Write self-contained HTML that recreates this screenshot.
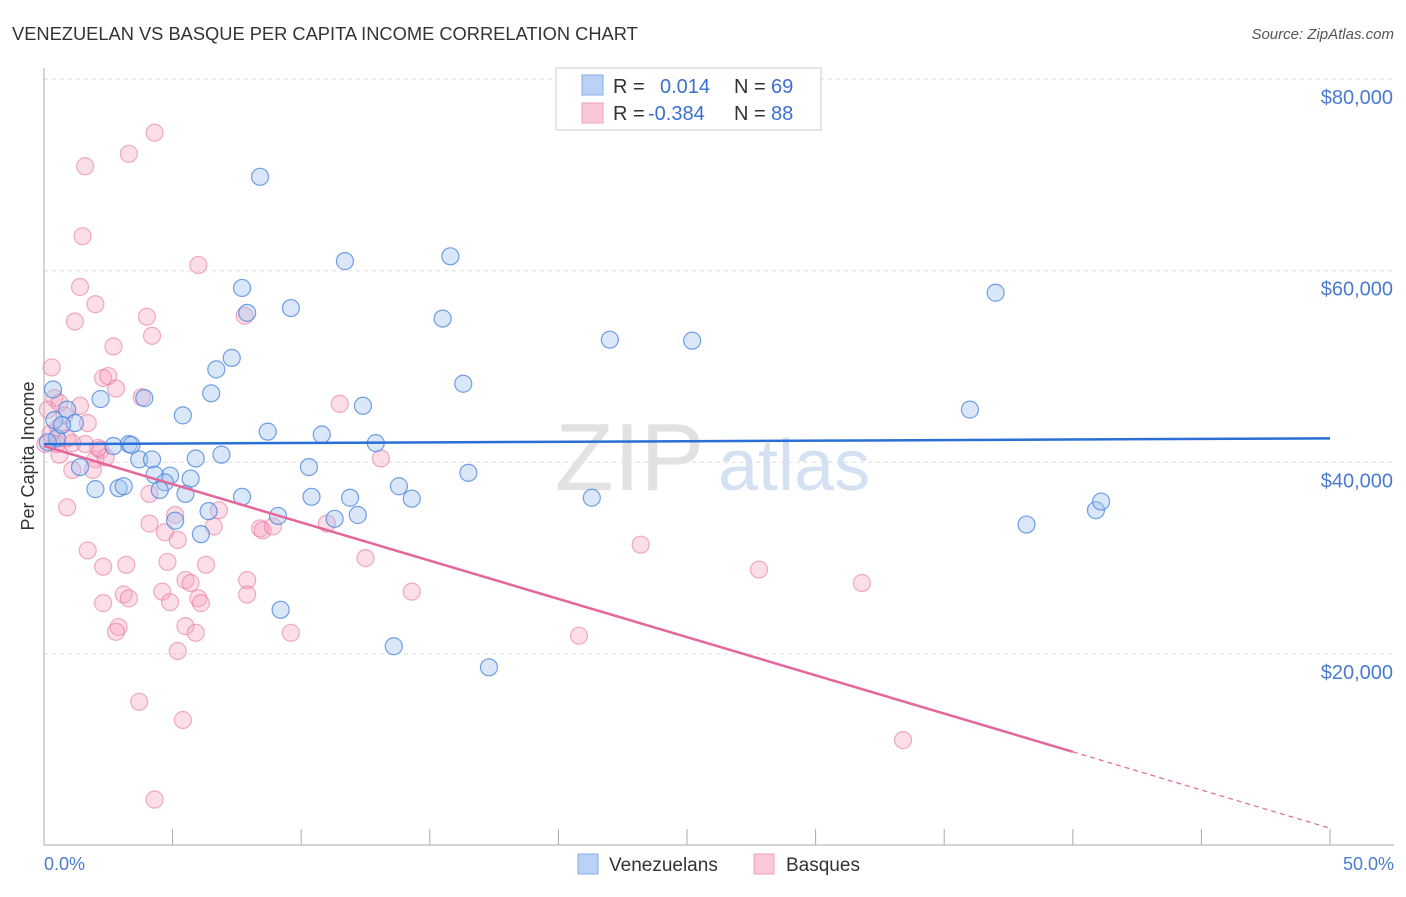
<!DOCTYPE html>
<html><head><meta charset="utf-8"><style>
body{margin:0;background:#fff;font-family:"Liberation Sans",sans-serif}
svg text{font-family:"Liberation Sans",sans-serif}
</style></head><body>
<svg id="c" width="1406" height="892">
<text x="12" y="40" font-size="18.3" fill="#333">VENEZUELAN VS BASQUE PER CAPITA INCOME CORRELATION CHART</text>
<text x="1394" y="39" font-size="15" fill="#555" font-style="italic" text-anchor="end">Source: ZipAtlas.com</text>
<text x="34" y="456" font-size="18" fill="#333" text-anchor="middle" transform="rotate(-90 34 456)">Per Capita Income</text>
<g id="grid"></g>
<text x="555" y="490" font-size="96" fill="#e2e2e2" font-family="Liberation Serif">ZIP</text>
<text x="718" y="490" font-size="72" fill="#d3e1f3">atlas</text>
<g id="marks"></g>
<text x="44" y="870" font-size="18" fill="#4a7bd0">0.0%</text>
<text x="1394" y="870" font-size="18" fill="#4a7bd0" text-anchor="end">50.0%</text>
<g>
<rect x="556" y="68" width="265" height="62" fill="#fff" stroke="#ccc"/>
<rect x="582" y="75" width="21" height="20" fill="#b9d2f5" stroke="#86aee6"/>
<rect x="582" y="103" width="21" height="20" fill="#fac8d8" stroke="#eea0ba"/>
<text x="613" y="93" font-size="20" fill="#333">R =</text>
<text x="660" y="93" font-size="20" fill="#3b70d0">0.014</text>
<text x="734" y="93" font-size="20" fill="#333">N =</text>
<text x="771" y="93" font-size="20" fill="#3b70d0">69</text>
<text x="613" y="120" font-size="20" fill="#333">R =</text>
<text x="648" y="120" font-size="20" fill="#3b70d0">-0.384</text>
<text x="734" y="120" font-size="20" fill="#333">N =</text>
<text x="771" y="120" font-size="20" fill="#3b70d0">88</text>
</g>
<g>
<rect x="578" y="854" width="20" height="20" fill="#b9d2f5" stroke="#86aee6"/>
<text x="609" y="871" font-size="19" fill="#333">Venezuelans</text>
<rect x="754" y="854" width="20" height="20" fill="#fac8d8" stroke="#eea0ba"/>
<text x="786" y="871" font-size="19" fill="#333">Basques</text>
</g>
</svg>
<script>
const yTicks=[20000,40000,60000,80000];
const yTickLabels=["$20,000","$40,000","$60,000","$80,000"];
const xTicks=[0,5,10,15,20,25,30,35,40,45,50];
const blueX=[8.4,15.8,11.7,7.7,9.6,7.9,15.5,22.0,25.2,7.3,6.7,6.5,16.3,2.2,3.9,5.4,12.4,0.35,0.9,1.2,0.5,8.7,10.8,12.9,3.3,3.4,2.7,3.7,4.2,5.9,6.9,1.4,10.3,16.5,2.0,2.9,3.1,4.9,5.7,4.3,4.7,5.5,7.7,4.5,10.4,11.9,13.8,14.3,21.3,5.1,6.4,9.1,11.3,12.2,6.1,38.2,40.9,41.1,36.0,37.0,9.2,13.6,17.3,0.15,0.4,0.7];
const blueY=[69.8,61.5,61.0,58.2,56.1,55.6,55.0,52.8,52.7,50.9,49.7,47.2,48.2,46.6,46.7,44.9,45.9,47.6,45.5,44.1,42.5,43.2,42.9,42.0,41.9,41.8,41.7,40.3,40.3,40.4,40.8,39.5,39.5,38.9,37.2,37.3,37.5,38.6,38.3,38.7,37.9,36.7,36.4,37.1,36.4,36.3,37.5,36.2,36.3,33.9,34.9,34.4,34.1,34.5,32.5,33.5,35.0,35.9,45.5,57.7,24.6,20.8,18.6,42.1,44.4,43.9];
const pinkX=[4.3,3.3,1.6,1.5,6.0,1.4,2.0,1.2,4.0,4.2,2.7,0.3,2.3,2.5,2.8,3.8,0.4,0.15,0.6,0.8,1.4,1.7,1.1,0.6,1.1,2.0,2.2,2.4,2.1,0.5,11.5,13.1,7.8,0.9,4.1,4.7,5.1,5.2,6.6,6.8,8.4,8.5,8.9,11.0,12.5,1.7,2.3,3.2,4.8,6.3,5.5,5.7,7.9,2.3,3.1,3.3,4.6,4.9,6.0,6.1,7.9,14.3,2.9,2.8,5.5,5.9,9.6,20.8,23.2,27.8,31.8,5.2,3.7,5.4,33.4,4.3,0.05,0.25,0.55,0.9,1.6,1.9,4.1];
const pinkY=[74.4,72.2,70.9,63.6,60.6,58.3,56.5,54.7,55.2,53.2,52.1,49.9,48.8,49.0,47.7,46.8,46.7,45.5,46.2,44.9,45.9,44.1,42.0,40.8,39.2,40.3,41.3,40.5,41.5,41.9,46.1,40.4,55.3,35.3,36.7,32.7,34.5,31.9,33.3,35.0,33.1,32.9,33.3,33.6,30.0,30.8,29.1,29.3,29.6,29.3,27.7,27.4,27.7,25.3,26.2,25.8,26.5,25.4,25.8,25.3,26.2,26.5,22.8,22.3,22.9,22.2,22.2,21.9,31.4,28.8,27.4,20.3,15.0,13.1,11.0,4.8,41.9,43.0,43.6,42.5,41.9,39.2,33.6];
const blueTrend=[41.9,42.5];
const pinkTrend=[41.7,1.8];
const pinkSolidEnd=40;
const X=v=>44+v/50*1286;
const Y=v=>845.5-v/20000*191.6;
const Yk=v=>Y(v*1000);
const NS="http://www.w3.org/2000/svg";
function mk(t,a,p){const e=document.createElementNS(NS,t);for(const k in a)e.setAttribute(k,a[k]);p.appendChild(e);return e;}
const grid=document.getElementById('grid'),marks=document.getElementById('marks');
yTicks.forEach((v,i)=>{
 const l=mk('line',{x1:44,x2:1394,y1:Y(v),y2:Y(v),stroke:'#ddd','stroke-dasharray':'4 4'},grid);
 
 
 const t=mk('text',{x:1393,y:Y(v)+25,'font-size':20,fill:'#4a7bd0','text-anchor':'end'},grid);
 t.textContent=yTickLabels[i];
 
 
});
const ax=mk('line',{x1:44,x2:44,y1:68,y2:845,stroke:'#aaa'},grid);


const bx=mk('line',{x1:44,x2:1394,y1:845,y2:845,stroke:'#aaa'},grid);


xTicks.forEach(v=>{
 const t=mk('line',{x1:X(v),x2:X(v),y1:829,y2:845,stroke:'#aaa'},grid);
 
 
});
pinkX.forEach((x,i)=>{
 const c=mk('circle',{cx:X(x),cy:Yk(pinkY[i]),r:8.5,fill:'rgba(246,160,190,0.35)',stroke:'rgba(232,120,160,0.6)','stroke-width':1.2},marks);
 
 
});
blueX.forEach((x,i)=>{
 const c=mk('circle',{cx:X(x),cy:Yk(blueY[i]),r:8.5,fill:'rgba(160,195,240,0.4)',stroke:'rgba(70,130,220,0.75)','stroke-width':1.2},marks);
 
 
});
const bl=mk('line',{x1:X(0),x2:X(50),y1:Yk(blueTrend[0]),y2:Yk(blueTrend[1]),stroke:'#2a6fd6','stroke-width':2.5},marks);


const pm=pinkTrend[0]+(pinkTrend[1]-pinkTrend[0])*pinkSolidEnd/50;
const pl=mk('line',{x1:X(0),x2:X(pinkSolidEnd),y1:Yk(pinkTrend[0]),y2:Yk(pm),stroke:'#e4679a','stroke-width':2.5},marks);


const pd=mk('line',{x1:X(pinkSolidEnd),x2:X(50),y1:Yk(pm),y2:Yk(pinkTrend[1]),stroke:'#e4679a','stroke-width':1.2,'stroke-dasharray':'5 4'},marks);


</script>
</body></html>
